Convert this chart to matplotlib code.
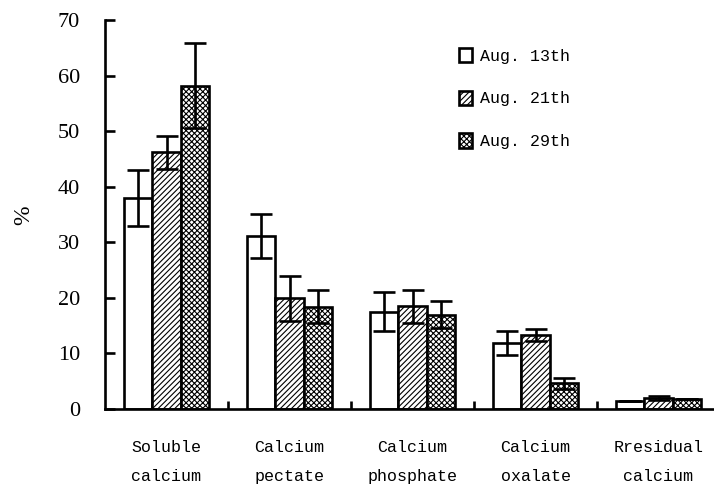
import numpy as np
import matplotlib.pyplot as plt
from matplotlib.ticker import FixedLocator

categories = ["Soluble\ncalcium", "Calcium\npectate", "Calcium\nphosphate",
              "Calcium\noxalate", "Rresidual\ncalcium"]
series = ["Aug. 13th", "Aug. 21th", "Aug. 29th"]
vals_13 = [38.0, 31.1, 17.5, 11.9, 1.4]
err_13 = [5.0, 4.0, 3.5, 2.2, 0.0]
vals_21 = [46.2, 19.9, 18.5, 13.3, 2.0]
err_21 = [3.0, 4.1, 3.0, 1.1, 0.3]
vals_29 = [58.2, 18.4, 17.0, 4.6, 1.8]
err_29 = [7.7, 3.0, 2.5, 1.0, 0.0]

plt.rcParams['hatch.linewidth'] = 0.8

W, H = 714, 486
fig = plt.figure(figsize=(W / 100, H / 100), dpi=100)
# axes placed in pixels: left spine x=105, bottom y=409, top (70) y=20
ax = fig.add_axes([105 / W, 1 - 409 / H, (714 - 105) / W, (409 - 20) / H])

x = np.arange(len(categories))
bw = 0.228
lw = 1.9
styles = [dict(facecolor='white', hatch=None),
          dict(facecolor='white', hatch='//////'),
          dict(facecolor='white', hatch='xxxxxx')]
for i, (v, e) in enumerate([(vals_13, err_13), (vals_21, err_21), (vals_29, err_29)]):
    pos = x + (i - 1) * bw
    ax.bar(pos, v, bw, edgecolor='black', linewidth=lw, label=series[i],
           zorder=2, **styles[i])
    ax.errorbar(pos, v, yerr=e, fmt='none', ecolor='black', elinewidth=lw,
                capsize=8, capthick=lw, zorder=3)

ax.set_xlim(-0.5, (714 - 105) / 123 - 0.5)
ax.set_ylim(0, 70)
ax.set_yticks(range(0, 71, 10))
ax.tick_params(axis='y', direction='in', length=7, width=lw, pad=18,
               labelsize=16)
for t in ax.get_yticklabels():
    t.set_fontfamily('Liberation Serif')

ax.set_xticks(x)
ax.set_xticklabels(categories, fontfamily='Liberation Mono', fontsize=12,
                   linespacing=2.2)
ax.tick_params(axis='x', which='major', length=0, pad=22)
ax.xaxis.set_minor_locator(FixedLocator([0.5, 1.5, 2.5, 3.5]))
ax.tick_params(axis='x', which='minor', direction='in', length=6, width=lw)

for s in ['top', 'right']:
    ax.spines[s].set_visible(False)
for s in ['left', 'bottom']:
    ax.spines[s].set_linewidth(lw)

fig.text(24 / W, 1 - 215 / H, '%', rotation=90, ha='center', va='center',
         fontsize=17, fontfamily='Liberation Serif')

leg = ax.legend(loc='upper left', bbox_to_anchor=(444 / W, 1 - 33 / H),
                bbox_transform=fig.transFigure, frameon=False,
                prop={'family': 'Liberation Mono', 'size': 12},
                handlelength=0.8, handleheight=0.95, handletextpad=0.45,
                labelspacing=1.6)

fig.savefig('out.png', dpi=100)
